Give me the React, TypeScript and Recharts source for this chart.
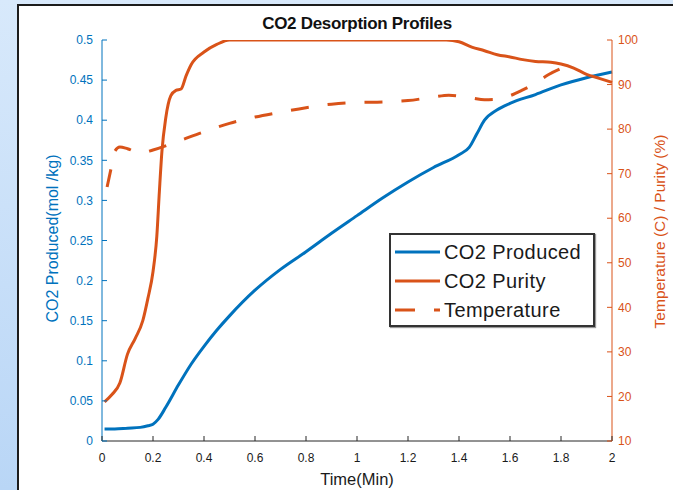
import React from 'react';
import { LineChart, Line, XAxis, YAxis, Legend } from 'recharts';

// CO2 produced (mol/kg), left axis
const producedTime = [0.01, 0.05, 0.1, 0.15, 0.18, 0.2, 0.22, 0.25, 0.3, 0.35, 0.4, 0.45, 0.5, 0.6, 0.7, 0.8, 0.9, 1.0, 1.1, 1.2, 1.3, 1.4, 1.44, 1.47, 1.5, 1.55, 1.6, 1.7, 1.8, 1.9, 2.0];
const producedValues = [0.015, 0.015, 0.016, 0.017, 0.019, 0.021, 0.027, 0.042, 0.07, 0.096, 0.118, 0.138, 0.156, 0.188, 0.214, 0.236, 0.259, 0.281, 0.303, 0.323, 0.341, 0.357, 0.366, 0.383, 0.4, 0.413, 0.421, 0.432, 0.444, 0.453, 0.46];

// CO2 purity (%), right axis
const purityTime = [0.01, 0.04, 0.07, 0.1, 0.13, 0.16, 0.18, 0.2, 0.215, 0.225, 0.235, 0.25, 0.27, 0.29, 0.31, 0.33, 0.35, 0.4, 0.45, 0.5, 0.6, 0.8, 1.0, 1.2, 1.35, 1.4, 1.45, 1.5, 1.55, 1.6, 1.65, 1.7, 1.76, 1.8, 1.85, 1.9, 1.95, 2.0];
const purityValues = [18.8, 20.5, 23, 29.5, 33, 37, 42, 48, 56, 66, 75, 82.5, 87.5, 88.7, 89, 92, 94.5, 97.3, 99, 100, 100, 100, 100, 100, 100, 99.6, 98.4, 97.6, 96.7, 96.2, 95.6, 95.2, 95, 94.6, 93.7, 92.3, 91.4, 90.5];

// temperature (C), right axis
const tempTime = [0.02, 0.035, 0.05, 0.07, 0.1, 0.15, 0.2, 0.3, 0.4, 0.5, 0.6, 0.7, 0.8, 0.9, 1.0, 1.1, 1.2, 1.3, 1.36, 1.45, 1.5, 1.55, 1.6, 1.65, 1.7, 1.75, 1.8];
const tempValues = [67, 71, 75, 76, 75.6, 74.6, 75.3, 77.3, 79.4, 81.3, 82.7, 83.8, 84.8, 85.6, 86, 86.1, 86.4, 87.2, 87.6, 87, 86.6, 86.7, 87.5, 88.8, 90.3, 92.2, 93.6];

const timeTicks = [0, 0.2, 0.4, 0.6, 0.8, 1, 1.2, 1.4, 1.6, 1.8, 2];
const leftTicks = [0, 0.05, 0.1, 0.15, 0.2, 0.25, 0.3, 0.35, 0.4, 0.45, 0.5];
const rightTicks = [10, 20, 30, 40, 50, 60, 70, 80, 90, 100];

const BLUE = '#0072BD';
const ORANGE = '#D95319';
const AXIS = '#262626';
const FONT = "'Liberation Sans', Arial, sans-serif";

const zip = (ts: number[], vs: number[], key: string) => ts.map((t, i) => ({ time: t, [key]: vs[i] }));

const series = [
  { key: 'produced', name: 'CO2 Produced', color: BLUE, axis: 'left', dash: undefined, data: zip(producedTime, producedValues, 'produced') },
  { key: 'purity', name: 'CO2 Purity', color: ORANGE, axis: 'right', dash: undefined, data: zip(purityTime, purityValues, 'purity') },
  { key: 'temp', name: 'Temperature', color: ORANGE, axis: 'right', dash: '18 19', data: zip(tempTime, tempValues, 'temp') },
];

const LeftTick = ({ x, y, payload }: any) => (
  <g>
    <line x1={x} x2={x + 5} y1={y} y2={y} stroke={BLUE} />
    <text x={x - 9} y={y} dy="0.35em" textAnchor="end" fill={BLUE} fontSize={12} fontFamily={FONT}>{payload.value}</text>
  </g>
);

const RightTick = ({ x, y, payload }: any) => (
  <g>
    <line x1={x - 5} x2={x} y1={y} y2={y} stroke={ORANGE} />
    <text x={x + 6} y={y} dy="0.35em" textAnchor="start" fill={ORANGE} fontSize={12} fontFamily={FONT}>{payload.value}</text>
  </g>
);

const BottomTick = ({ x, y, payload }: any) => (
  <g>
    <line x1={x} x2={x} y1={y - 5} y2={y} stroke={AXIS} />
    <text x={x} y={y + 12} dy="0.71em" textAnchor="middle" fill="#1a1a1a" fontSize={12} fontFamily={FONT}>{payload.value}</text>
  </g>
);

const TopTick = ({ x, y }: any) => <line x1={x} x2={x} y1={y} y2={y + 5} stroke={AXIS} />;

const renderLegend = ({ payload }: any) => (
  <div style={{ width: 206, height: 94, boxSizing: 'border-box', border: '2px solid #333', background: '#fff', boxShadow: '1px 1px 1px #999' }}>
    <svg width={202} height={90}>
      {(payload || []).map((entry: any, i: number) => {
        const s = series.find((d) => d.name === entry.value);
        const cy = 17 + i * 29;
        return (
          <g key={entry.value}>
            <line x1={4} x2={49} y1={cy} y2={cy} stroke={s?.color} strokeWidth={3} strokeDasharray={s?.dash ? '20 19' : undefined} />
            <text x={53} y={cy} dy="0.35em" fontSize={20} letterSpacing={0.4} fontFamily={FONT} fill="#1a1a1a">{entry.value}</text>
          </g>
        );
      })}
    </svg>
  </div>
);

const App = () => (
  <div style={{ position: 'absolute', left: 0, top: 0, width: 673, height: 490, overflow: 'hidden', background: 'linear-gradient(180deg, #d8e9fb, #b9d6f6)' }}>
    <div style={{ position: 'absolute', left: 17, top: 4, width: 700, height: 520, background: '#fff', border: '2px solid #1c1c1c' }} />
    <div style={{ position: 'absolute', left: 0, top: 0 }}>
      <LineChart width={673} height={490} margin={{ top: 40, right: 21, bottom: 19, left: 42 }}>
        <text x={357} y={29} textAnchor="middle" fontSize={17} fontWeight="bold" letterSpacing={-0.3} fontFamily={FONT} fill="#111">CO2 Desorption Profiles</text>
        <XAxis
          dataKey="time"
          type="number"
          domain={[0, 2]}
          ticks={timeTicks}
          allowDuplicatedCategory={false}
          height={30}
          stroke={AXIS}
          tickSize={0}
          tickMargin={0}
          tickLine={false}
          tick={BottomTick}
          interval={0}
          label={({ viewBox }: any) => (
            <text x={viewBox.x + viewBox.width / 2} y={viewBox.y + 38} dy="0.35em" textAnchor="middle" fontSize={16.5} fontFamily={FONT} fill="#1a1a1a">Time(Min)</text>
          )}
        />
        <XAxis xAxisId="top" orientation="top" dataKey="time" type="number" domain={[0, 2]} ticks={timeTicks} height={0} stroke={AXIS} tickSize={0} tickMargin={0} tickLine={false} tick={TopTick} interval={0} />
        <YAxis
          yAxisId="left"
          domain={[0, 0.5]}
          ticks={leftTicks}
          width={60}
          stroke={BLUE}
          tickSize={0}
          tickMargin={0}
          tickLine={false}
          tick={LeftTick}
          interval={0}
          allowDataOverflow
          label={({ viewBox }: any) => {
            const x = viewBox.x + 10;
            const y = viewBox.y + viewBox.height / 2 - 2;
            return (
              <text x={x} y={y} dy="0.35em" transform={`rotate(-90, ${x}, ${y})`} textAnchor="middle" fontSize={16} fontFamily={FONT} fill={BLUE}>CO2 Produced(mol /kg)</text>
            );
          }}
        />
        <YAxis
          yAxisId="right"
          orientation="right"
          domain={[10, 100]}
          ticks={rightTicks}
          width={40}
          stroke={ORANGE}
          tickSize={0}
          tickMargin={0}
          tickLine={false}
          tick={RightTick}
          interval={0}
          allowDataOverflow
          label={({ viewBox }: any) => {
            const x = viewBox.x + 48;
            const y = viewBox.y + viewBox.height / 2 - 9;
            return (
              <text x={x} y={y} dy="0.35em" transform={`rotate(-90, ${x}, ${y})`} textAnchor="middle" fontSize={15.5} fontFamily={FONT} fill={ORANGE}>Temperature (C) / Purity (%)</text>
            );
          }}
        />
        <Legend layout="vertical" align="center" verticalAlign="middle" wrapperStyle={{ left: 389, top: 233, width: 206, height: 94 }} content={renderLegend} />
        {series.map((s) => (
          <Line
            key={s.key}
            data={s.data}
            dataKey={s.key}
            name={s.name}
            yAxisId={s.axis}
            type="monotone"
            stroke={s.color}
            strokeWidth={3}
            strokeDasharray={s.dash}
            dot={false}
            activeDot={false}
            isAnimationActive={false}
          />
        ))}
      </LineChart>
    </div>
  </div>
);

export default App;
